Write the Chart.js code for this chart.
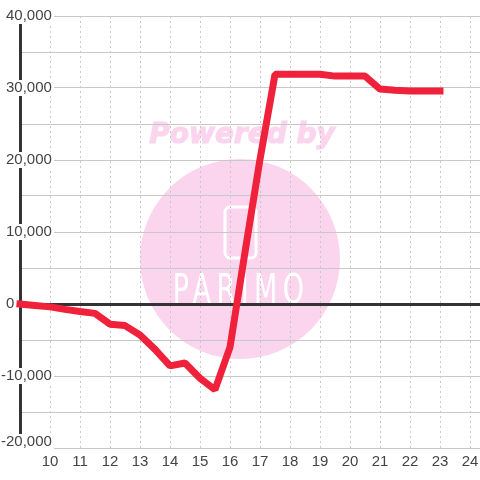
<!DOCTYPE html>
<html>
<head>
<meta charset="utf-8">
<style>
  html, body { margin: 0; padding: 0; background: #fff; }
  canvas { display: block; }
</style>
<script src="https://cdn.jsdelivr.net/npm/chart.js@4"></script>
</head>
<body>
<canvas id="balanceChart" width="480" height="480"></canvas>
<script>
const hours = [9, 9.5, 10, 10.5, 11, 11.5, 12, 12.5, 13, 13.5, 14, 14.5, 15, 15.5, 16, 16.5, 17, 17.5, 18, 18.5, 19, 19.5, 20, 20.5, 21, 21.5, 22, 22.5, 23];
const balance = [0, -200, -400, -750, -1050, -1300, -2800, -3000, -4300, -6300, -8600, -8200, -10300, -11900, -6000, 7200, 20100, 31900, 31900, 31900, 31900, 31650, 31650, 31650, 29850, 29700, 29600, 29600, 29600];
const hourLabels = [10, 11, 12, 13, 14, 15, 16, 17, 18, 19, 20, 21, 22, 23, 24];
const moneyLabels = [40000, 30000, 20000, 10000, 0, -10000];
// the bottom label sits a little above its grid line, so it gets its own tick
const bottomTick = -19170;
const bottomLabel = '-20,000';

const watermark = {
  id: 'watermark',
  beforeDraw(chart) {
    const ctx = chart.ctx;
    ctx.save();
    ctx.fillStyle = '#fff';
    ctx.fillRect(0, 0, 480, 480);
    ctx.fillStyle = '#fbd5ee';
    ctx.strokeStyle = '#fbd5ee';
    ctx.beginPath();
    ctx.arc(240, 259, 100, 0, Math.PI * 2);
    ctx.fill();
    ctx.font = 'italic bold 28px "DejaVu Sans"';
    ctx.textAlign = 'center';
    ctx.textBaseline = 'middle';
    ctx.lineWidth = 1.2;
    ctx.fillText('Powered by', 242, 136);
    ctx.strokeText('Powered by', 242, 136);
    ctx.strokeStyle = '#fff';
    ctx.lineWidth = 3;
    ctx.beginPath();
    ctx.roundRect(225, 207, 31, 51, 5);
    ctx.stroke();
    ctx.fillStyle = '#fff';
    ctx.font = '30px "DejaVu Sans"';
    ctx.letterSpacing = '6px';
    ctx.translate(241, 292);
    ctx.scale(0.9, 1.35);
    ctx.fillText('PARIMO', 0, 0);
    ctx.restore();
  }
};

function moneyText(value) {
  if (value === bottomTick) return bottomLabel;
  if (!moneyLabels.includes(value)) return '';
  // zero sits left of the axis line
  if (value === 0) return '0         ';
  const text = Math.abs(value).toLocaleString('en-US');
  return value < 0 ? '-' + text : text;
}

new Chart(document.getElementById('balanceChart'), {
  type: 'line',
  data: {
    datasets: [{
      data: hours.map((h, i) => ({ x: h, y: balance[i] })),
      borderColor: '#f0213a',
      borderWidth: 7,
      borderCapStyle: 'square',
      borderJoinStyle: 'bevel',
      pointRadius: 0,
      tension: 0,
      fill: false,
      clip: false
    }]
  },
  options: {
    responsive: false,
    animation: false,
    events: [],
    layout: { padding: { left: 20, top: 16, right: 0, bottom: 0 } },
    plugins: { legend: { display: false }, tooltip: { enabled: false } },
    scales: {
      x: {
        type: 'linear',
        min: 9,
        max: 24 + 1 / 3,
        afterFit(scale) {
          scale.height = 32;
          scale.paddingLeft = 0;
          scale.paddingRight = 0;
        },
        border: { display: false, dash: [2, 3] },
        grid: { color: '#c8c8c8', lineWidth: 1, drawTicks: false, z: -1 },
        ticks: {
          stepSize: 1,
          includeBounds: false,
          autoSkip: false,
          maxRotation: 0,
          padding: 5,
          color: '#444',
          font: { family: '"Liberation Sans"', size: 15 },
          callback: v => hourLabels.includes(v) ? String(v) : ''
        }
      },
      y: {
        min: -20000,
        max: 40000,
        afterFit(scale) { scale.width = 0; },
        afterBuildTicks(scale) {
          scale.ticks.push({ value: bottomTick });
          scale.ticks.sort((a, b) => a.value - b.value);
        },
        border: { color: '#333', width: 3 },
        grid: {
          color: c => c.tick.value === 0 ? '#333' : c.tick.value === bottomTick ? 'transparent' : '#c8c8c8',
          lineWidth: c => c.tick.value === 0 ? 3 : 1,
          drawTicks: false
        },
        ticks: {
          stepSize: 5000,
          autoSkip: false,
          mirror: true,
          crossAlign: 'far',
          padding: -19,
          color: '#444',
          font: { family: '"Liberation Sans"', size: 15, lineHeight: 0.8 },
          showLabelBackdrop: c => c.tick.value !== 0 && moneyText(c.tick.value) !== '',
          backdropColor: '#fff',
          backdropPadding: 2,
          callback: v => moneyText(v)
        }
      }
    }
  },
  plugins: [watermark]
});
</script>
</body>
</html>
